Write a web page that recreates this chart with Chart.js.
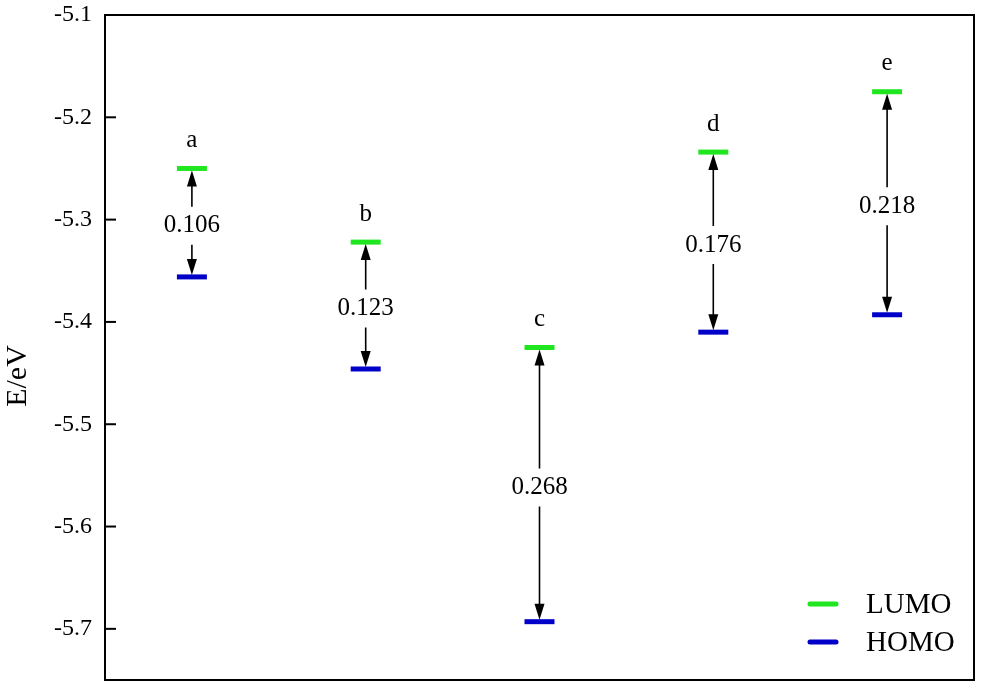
<!DOCTYPE html>
<html>
<head>
<meta charset="utf-8">
<script src="https://cdn.jsdelivr.net/npm/chart.js@4.4.1/dist/chart.umd.min.js"></script>
<style>
  html, body { margin: 0; padding: 0; background: #fff; }
  #wrap { width: 981px; height: 687px; }
</style>
</head>
<body>
<div id="wrap"><canvas id="levels" width="981" height="687"></canvas></div>
<script>
// energy levels (eV)
const categories = ['a', 'b', 'c', 'd', 'e'];
const lumo = [-5.250, -5.322, -5.425, -5.234, -5.175];
const homo = [-5.356, -5.446, -5.693, -5.410, -5.393];
const gaps = ['0.106', '0.123', '0.268', '0.176', '0.218'];
const yTicks = [-5.1, -5.2, -5.3, -5.4, -5.5, -5.6, -5.7];

const serif = '"Liberation Serif", "Times New Roman", serif';
const green = '#1fe61f';
const blue = '#0000c8';

const toPoints = vals => vals.map((v, i) => ({ x: i + 1, y: v }));

function arrowHead(ctx, x, y, dir) {
    // dir = -1 pointing up, 1 pointing down
    ctx.beginPath();
    ctx.moveTo(x, y);
    ctx.lineTo(x - 5, y - dir * 16);
    ctx.lineTo(x + 5, y - dir * 16);
    ctx.closePath();
    ctx.fill();
}

const extras = {
    id: 'extras',
    afterDatasetsDraw(chart) {
        const ctx = chart.ctx;
        const xs = chart.scales.x, ys = chart.scales.y;
        const area = chart.chartArea;
        ctx.save();

        // frame (top, right, bottom)
        ctx.strokeStyle = '#000';
        ctx.lineWidth = 2;
        ctx.beginPath();
        ctx.moveTo(area.left, area.top);
        ctx.lineTo(area.right, area.top);
        ctx.lineTo(area.right, area.bottom);
        ctx.lineTo(area.left, area.bottom);
        ctx.stroke();

        // inward ticks
        yTicks.forEach(t => {
            const py = ys.getPixelForValue(t);
            ctx.beginPath();
            ctx.moveTo(area.left, py);
            ctx.lineTo(area.left + 11, py);
            ctx.stroke();
        });

        // arrows, gap labels and letters
        ctx.fillStyle = '#000';
        ctx.textAlign = 'center';
        ctx.textBaseline = 'middle';
        categories.forEach((c, i) => {
            const px = xs.getPixelForValue(i + 1);
            const top = ys.getPixelForValue(lumo[i]) + 2;
            const bot = ys.getPixelForValue(homo[i]) - 2;
            const mid = (top + bot) / 2 + 3;
            ctx.lineWidth = 1.6;
            ctx.beginPath();
            ctx.moveTo(px, top + 10);
            ctx.lineTo(px, mid - 19);
            ctx.moveTo(px, mid + 19);
            ctx.lineTo(px, bot - 10);
            ctx.stroke();
            arrowHead(ctx, px, top, -1);
            arrowHead(ctx, px, bot, 1);

            ctx.font = '25px ' + serif;
            ctx.fillText(gaps[i], px, mid);
            ctx.fillText(c, px, ys.getPixelForValue(lumo[i]) - 28);
        });

        // axis title
        ctx.save();
        ctx.translate(18, 376);
        ctx.rotate(-Math.PI / 2);
        ctx.font = '30px ' + serif;
        ctx.fillText('E/eV', 0, 0);
        ctx.restore();

        // legend
        chart.data.datasets.forEach((ds, k) => {
            const ly = 604 + k * 38;
            ctx.strokeStyle = ds.borderColor;
            ctx.lineWidth = 5;
            ctx.lineCap = 'round';
            ctx.beginPath();
            ctx.moveTo(810, ly);
            ctx.lineTo(836, ly);
            ctx.stroke();
            ctx.fillStyle = '#000';
            ctx.textAlign = 'left';
            ctx.font = '29px ' + serif;
            ctx.fillText(ds.label, 866, ly + 1);
        });
        ctx.restore();
    }
};

new Chart(document.getElementById('levels'), {
    type: 'scatter',
    data: {
        datasets: [
            {
                label: 'LUMO',
                data: toPoints(lumo),
                borderColor: green,
                backgroundColor: green,
                pointStyle: 'line',
                pointRadius: 15,
                pointHoverRadius: 15,
                pointBorderWidth: 5
            },
            {
                label: 'HOMO',
                data: toPoints(homo),
                borderColor: blue,
                backgroundColor: blue,
                pointStyle: 'line',
                pointRadius: 15,
                pointHoverRadius: 15,
                pointBorderWidth: 5
            }
        ]
    },
    options: {
        responsive: false,
        animation: false,
        events: [],
        layout: { autoPadding: false, padding: { top: 15, right: 7, bottom: 7, left: 0 } },
        plugins: {
            legend: { display: false },
            tooltip: { enabled: false }
        },
        scales: {
            x: {
                type: 'linear',
                display: false,
                min: 0.5,
                max: 5.5
            },
            y: {
                type: 'linear',
                min: -5.75,
                max: -5.1,
                afterFit: scale => {
                    scale.width = 105;
                    scale.paddingTop = 0;
                    scale.paddingBottom = 0;
                },
                grid: { display: false, drawTicks: false },
                border: { display: true, color: '#000', width: 2 },
                ticks: {
                    stepSize: 0.1,
                    includeBounds: false,
                    padding: 13,
                    color: '#000',
                    font: { family: serif, size: 24 },
                    callback: v => v.toFixed(1)
                }
            }
        }
    },
    plugins: [extras]
});
</script>
</body>
</html>
